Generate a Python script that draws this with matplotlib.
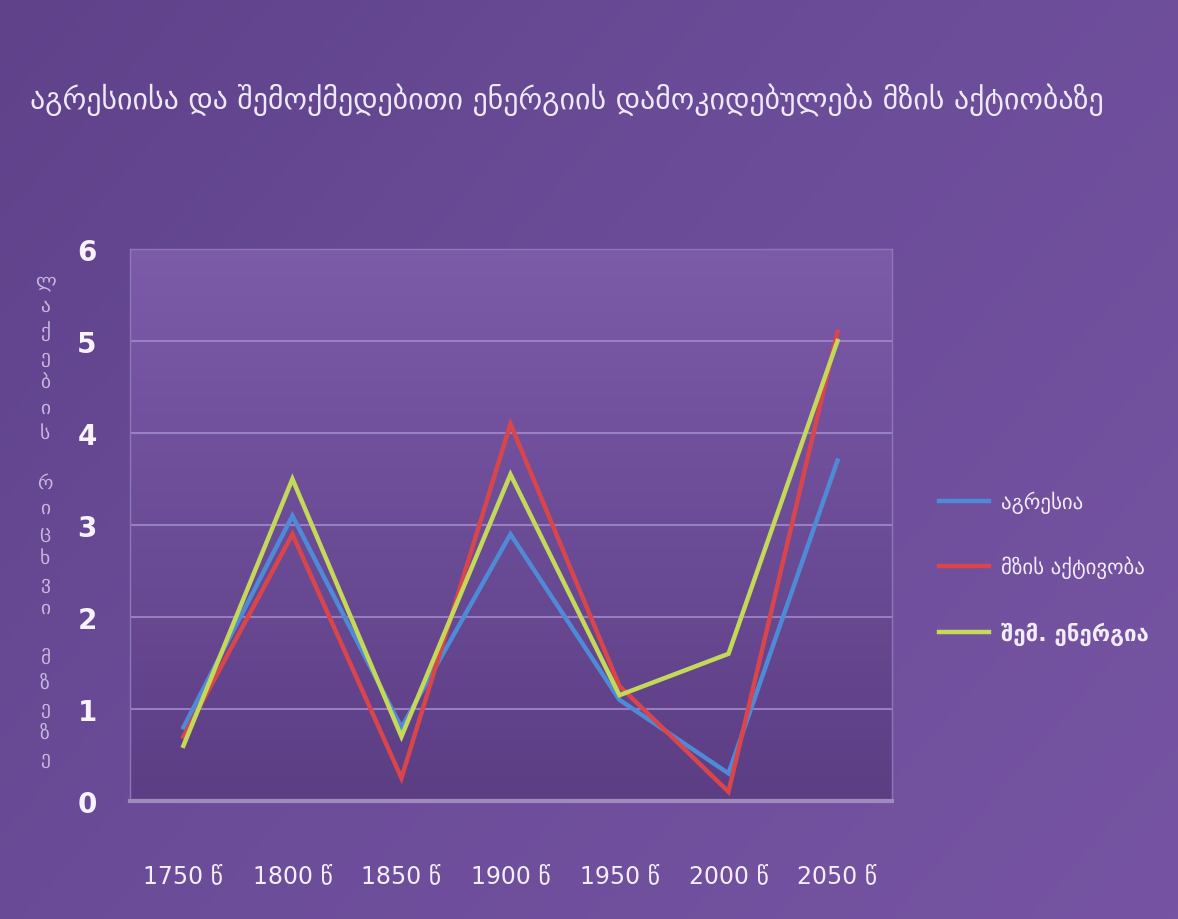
import numpy as np
import matplotlib.pyplot as plt
from matplotlib.colors import LinearSegmentedColormap

plt.rcParams['font.family'] = ['DejaVu Sans']

years = ['1750', '1800', '1850', '1900', '1950', '2000', '2050']
year_suffix = ' წ'
aggression = [0.8, 3.1, 0.8, 2.9, 1.1, 0.3, 3.7]
sun_activity = [0.7, 2.9, 0.25, 4.1, 1.25, 0.1, 5.1]
creative_energy = [0.6, 3.5, 0.7, 3.55, 1.15, 1.6, 5.0]

series_names = ['აგრესია', 'მზის აქტივობა', 'შემ. ენერგია']
series_colors = ['#4f8ad6', '#d8464c', '#c4d957']

title = 'აგრესიისა და შემოქმედებითი ენერგიის დამოკიდებულება მზის აქტიობაზე'
ylabel = 'ლაქების რიცხვი მზეზე'

fig = plt.figure(figsize=(11.78, 9.2), dpi=100, facecolor='#6a4b97')

# soft background gradient for the whole slide
bg = fig.add_axes([0, 0, 1, 1], zorder=-10)
bg_cmap = LinearSegmentedColormap.from_list('bg', ['#5f428a', '#6c4d9a', '#7654a3'])
gx, gy = np.meshgrid(np.linspace(0, 1, 200), np.linspace(0, 1, 200))
bg.imshow(0.6 * gx + 0.4 * gy, cmap=bg_cmap, aspect='auto', extent=[0, 1, 1, 0])
bg.axis('off')

# plot area: left 130, right 892, top 250, bottom 802 (pixels)
W, H = 1178, 920
ax = fig.add_axes([130 / W, 1 - 802 / H, 762 / W, 552 / H])
x = np.arange(len(years))

area_cmap = LinearSegmentedColormap.from_list('area', ['#5c3e85', '#7c5ba9'])
ax.imshow(np.linspace(0, 1, 100).reshape(-1, 1), cmap=area_cmap, aspect='auto',
          extent=[-0.49, 6.5, 0, 6.12], origin='lower', zorder=0)

for val in range(1, 6):
    ax.axhline(val, color='#a48ccc', lw=1.5, alpha=0.8, zorder=1)

for data, name, color in zip([aggression, sun_activity, creative_energy], series_names, series_colors):
    ax.plot(x, data, color=color, lw=3.2, label=name, zorder=3, solid_joinstyle='miter')

ax.set_xlim(-0.49, 6.5)
ax.set_ylim(0, 6)
ax.set_xticks(x)
ax.set_xticklabels([y + year_suffix for y in years], color='#f4eefa', fontsize=17)
ax.set_yticks(range(0, 7))
ax.set_yticklabels([str(v) for v in range(0, 7)], color='#f7f2fb', fontsize=20, fontweight='bold')
ax.tick_params(length=0)
ax.tick_params(axis='x', pad=45)
ax.tick_params(axis='y', pad=24)
for side in ['left', 'right', 'top']:
    ax.spines[side].set_color('#8e76b8')
    ax.spines[side].set_linewidth(1)
ax.spines['bottom'].set_color('#9d8bbd')
ax.spines['bottom'].set_linewidth(3)
ax.set_facecolor('none')

fig.text(30 / W, 1 - 100 / H, title, color='#efe8f7', fontsize=21.5, va='center', ha='left')

fig.text(45 / W, 1 - 520 / H, '\n'.join(ylabel), color='#c7b7df', fontsize=14,
         ha='center', va='center', linespacing=1.4)

leg = fig.legend(loc='upper left', bbox_to_anchor=(920 / W, 1 - 473 / H), frameon=False,
                 labelspacing=2.05, handlelength=2.4, handletextpad=0.6,
                 fontsize=15, labelcolor='#f2ecf8')
leg.get_texts()[2].set_fontweight('bold')
leg.get_texts()[2].set_fontsize(16)

fig.savefig('out.png', dpi=100, facecolor=fig.get_facecolor())
